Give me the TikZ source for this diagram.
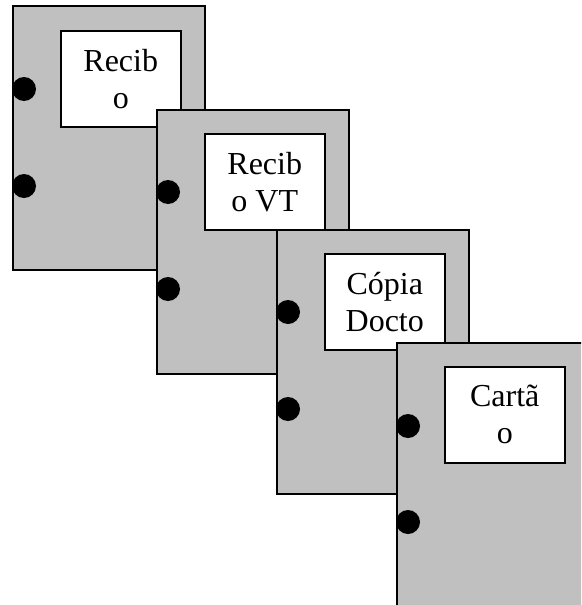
\documentclass[tikz,border=0pt]{standalone}
\usepackage{fontspec}
\setmainfont{Liberation Serif}
\begin{document}
\begin{tikzpicture}[x=1pt,y=-1pt,
  card/.style={draw=black, line width=1.5pt, fill=cardgray, rectangle, inner sep=0pt,
    minimum width=192pt, minimum height=264pt, anchor=north west},
  labelbox/.style={draw=black, line width=1.5pt, fill=white, rectangle, inner sep=0pt,
    minimum width=120pt, minimum height=96pt, anchor=north west, align=center,
    font=\fontsize{32}{37}\selectfont},
  hole/.style={circle, fill=black, inner sep=0pt, minimum size=24pt}]
\definecolor{cardgray}{RGB}{192,192,192}
\useasboundingbox (0,0) rectangle (581,605);
\clip (0,0) rectangle (581,605);
% card 1
\node[card] (c1) at (12,5) {};
\node[labelbox] (l1) at (60,30) {Recib\\o};
\node[hole] (h1a) at (24,89) {};
\node[hole] (h1b) at (24,186) {};
% card 2
\node[card] (c2) at (156,109) {};
\node[labelbox] (l2) at (204,133) {Recib\\o VT};
\node[hole] (h2a) at (168,192) {};
\node[hole] (h2b) at (168,289) {};
% card 3
\node[card] (c3) at (276,229) {};
\node[labelbox] (l3) at (324,253) {Cópia\\Docto};
\node[hole] (h3a) at (288,312) {};
\node[hole] (h3b) at (288,409) {};
% card 4
\node[card] (c4) at (396,342) {};
\node[labelbox] (l4) at (444,366) {Cartã\\o};
\node[hole] (h4a) at (408,426) {};
\node[hole] (h4b) at (408,522) {};
\end{tikzpicture}
\end{document}
